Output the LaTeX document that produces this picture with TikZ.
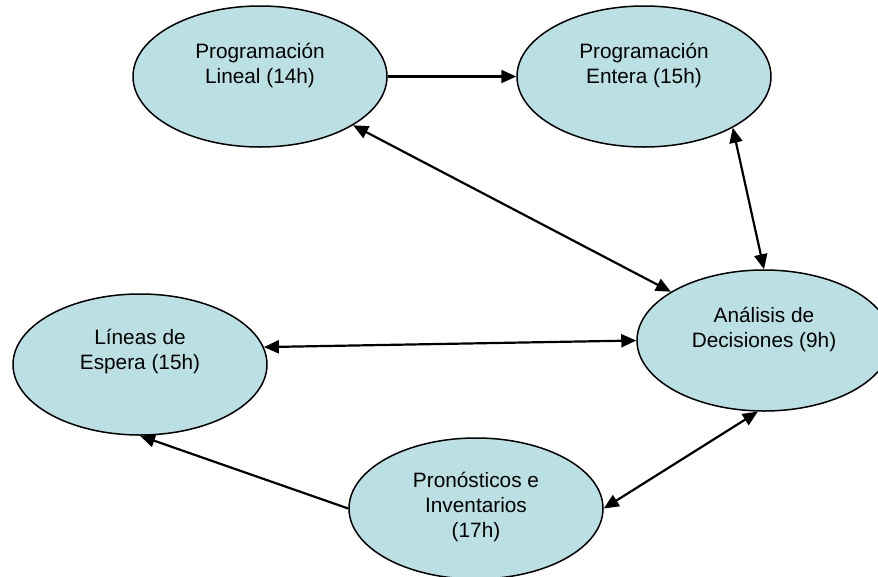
\documentclass[tikz,border=0pt]{standalone}
\usepackage{fontspec}
\setmainfont{Liberation Sans}
\usetikzlibrary{shapes.geometric,arrows.meta}
\definecolor{bubble}{RGB}{187,224,227}
\tikzset{
  topic/.style={shape=ellipse, draw=black, line width=1.5pt, fill=bubble,
    minimum width=254pt, minimum height=141pt, inner sep=0pt},
  lbl/.style={align=center, inner sep=0pt, anchor=base,
    font=\fontsize{20.8}{25}\selectfont},
  conn/.style={line width=2.2pt, -{Triangle[length=15pt,width=13pt]}},
  conn2/.style={line width=2.2pt, {Triangle[length=15pt,width=13pt]}-{Triangle[length=15pt,width=13pt]}}
}
\begin{document}
\begin{tikzpicture}[x=1pt,y=-1pt]
\useasboundingbox (0,0) rectangle (878,576);
\clip (0,0) rectangle (878,576);
\node[topic] (e1) at (260,76.5) {};
\node[topic] (e2) at (644,76.5) {};
\node[topic] (e3) at (764,340.5) {};
\node[topic] (e4) at (140,364.5) {};
\node[topic] (e5) at (476,508.5) {};
\node[lbl] (t1) at ([yshift=-78pt]e1.north) {Programación\\Lineal (14h)};
\node[lbl] (t2) at ([yshift=-78pt]e2.north) {Programación\\Entera (15h)};
\node[lbl] (t3) at ([yshift=-78pt]e3.north) {Análisis de\\Decisiones (9h)};
\node[lbl] (t4) at ([yshift=-76pt]e4.north) {Líneas de\\Espera (15h)};
\node[lbl] (t5) at ([yshift=-100pt]e5.north) {Pronósticos e\\Inventarios\\(17h)};
\draw[conn] (e1) -- (e2);
\draw[conn2] (e1) -- (e3);
\draw[conn2] (e2.-30) -- (e3.north);
\draw[conn2] (e4.8) -- (e3.west);
\draw[conn] (e5.west) -- (e4.south);
\draw[conn2] (e5.east) -- (e3.-95);
\end{tikzpicture}
\end{document}
